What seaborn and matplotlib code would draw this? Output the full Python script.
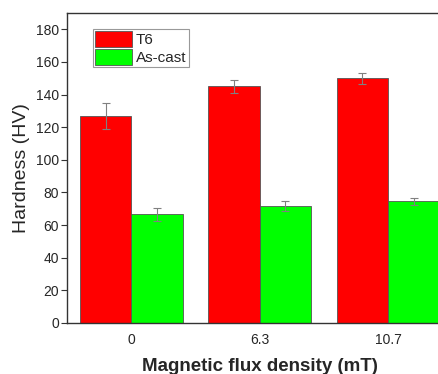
import pandas as pd
import seaborn as sns
import matplotlib.pyplot as plt

# values
flux = ['0', '6.3', '10.7']
t6 = [127, 145, 150]
t6_err = [8, 4, 3.5]
ascast = [66.5, 71.5, 74.5]
ascast_err = [4, 3, 2]

df = pd.DataFrame({
    'flux': flux * 2,
    'hardness': t6 + ascast,
    'state': ['T6'] * 3 + ['As-cast'] * 3,
})

sns.set_style('ticks')
plt.rcParams['font.family'] = ['Liberation Sans', 'DejaVu Sans']

fig = plt.figure(figsize=(4.39, 3.74), dpi=100)
ax = fig.add_axes([0.153, 0.1364, 0.877, 0.8288])

sns.barplot(data=df, x='flux', y='hardness', hue='state', order=flux,
            hue_order=['T6', 'As-cast'], palette=['#ff0000', '#00ff00'],
            saturation=1, errorbar=None, width=0.8,
            edgecolor='#555555', linewidth=0.6, ax=ax)

# error bars on top of each bar
for bars, errs in zip(ax.containers, [t6_err, ascast_err]):
    for bar, e in zip(bars, errs):
        ax.errorbar(bar.get_x() + bar.get_width() / 2, bar.get_height(), yerr=e,
                    color='#808080', elinewidth=0.8, capsize=3, capthick=0.8)

ax.set_ylim(0, 190)
ax.set_xlim(-0.5, 2.5)
ax.set_yticks(range(0, 181, 20))
ax.tick_params(axis='y', direction='out', length=4, width=0.8, labelsize=10,
               pad=2, color='#333333')
ax.tick_params(axis='x', length=0, labelsize=10, pad=7)
for s in ax.spines.values():
    s.set_color('#333333')
    s.set_linewidth(1.0)

ax.set_ylabel('Hardness (HV)', fontsize=14, labelpad=4)
ax.set_xlabel('Magnetic flux density (mT)', fontsize=13.5, fontweight='bold', labelpad=8)

leg = ax.legend(loc='upper left', bbox_to_anchor=(0.066, 0.95), fontsize=11,
                fancybox=False, framealpha=1, edgecolor='#999999',
                handlelength=2.4, handleheight=1.25, borderpad=0.15,
                labelspacing=0.1, handletextpad=0.3, borderaxespad=0)
leg.get_frame().set_linewidth(0.8)

fig.savefig('out.png', dpi=100)
